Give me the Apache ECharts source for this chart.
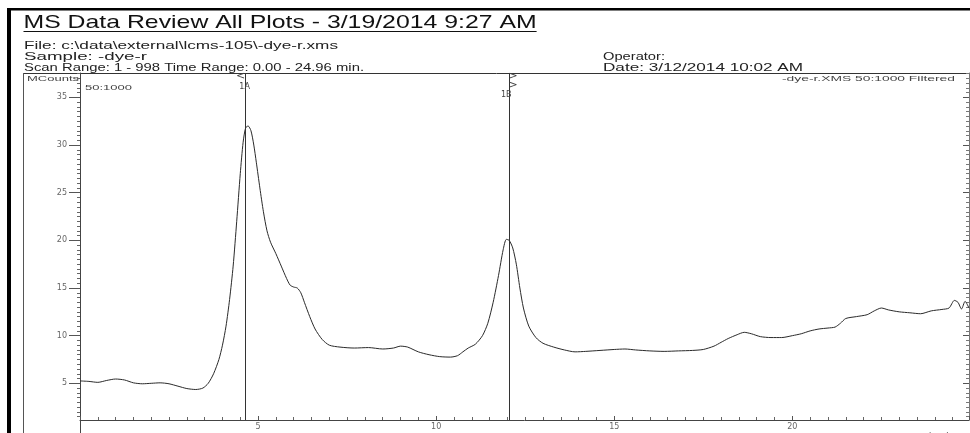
<!DOCTYPE html>
<html>
<head>
<meta charset="utf-8">
<script src="https://cdn.jsdelivr.net/npm/echarts@6/dist/echarts.min.js"></script>
<style>
html,body{margin:0;padding:0;background:#fff;}
#chart{width:970px;height:433px;}
</style>
</head>
<body>
<div id="chart"></div>
<script>
// ---- data ----
const TIME = [0.0,0.25,0.5,0.75,1.0,1.25,1.5,1.75,2.0,2.25,2.5,2.75,3.0,3.25,3.45,3.6,3.75,3.9,4.0,4.1,4.2,4.3,4.4,4.5,4.58,4.65,4.72,4.8,4.88,4.95,5.05,5.15,5.25,5.35,5.5,5.65,5.8,5.9,6.0,6.1,6.2,6.3,6.45,6.6,6.8,7.0,7.3,7.7,8.1,8.5,8.8,9.0,9.2,9.5,9.8,10.1,10.4,10.6,10.75,10.9,11.1,11.3,11.45,11.6,11.75,11.88,11.97,12.05,12.15,12.25,12.35,12.45,12.6,12.8,13.0,13.3,13.6,13.9,14.2,14.6,15.0,15.3,15.6,16.0,16.4,16.8,17.2,17.5,17.8,18.0,18.2,18.45,18.65,18.85,19.1,19.4,19.7,20.0,20.25,20.5,20.75,21.0,21.2,21.35,21.5,21.8,22.1,22.3,22.5,22.7,23.0,23.3,23.6,23.9,24.2,24.4,24.55,24.65,24.75,24.85,24.96];
const INTENSITY = [5.25,5.2,5.1,5.3,5.45,5.35,5.05,4.95,5.0,5.05,4.95,4.7,4.45,4.35,4.5,5.0,6.0,7.5,9.0,11.0,13.8,17.3,22.0,27.0,30.3,31.8,32.0,31.5,30.0,28.2,25.5,23.0,21.0,19.8,18.6,17.3,16.0,15.3,15.1,15.0,14.5,13.5,12.0,10.7,9.6,9.0,8.8,8.7,8.75,8.6,8.7,8.9,8.8,8.3,8.0,7.8,7.75,7.9,8.3,8.7,9.1,10.0,11.3,13.5,16.3,19.0,20.1,20.0,19.2,17.5,15.0,12.9,11.0,9.8,9.2,8.8,8.5,8.3,8.35,8.45,8.55,8.6,8.5,8.4,8.35,8.4,8.45,8.55,8.9,9.3,9.7,10.1,10.35,10.2,9.9,9.8,9.8,10.0,10.2,10.5,10.7,10.8,10.9,11.3,11.8,12.0,12.2,12.6,12.9,12.7,12.5,12.4,12.3,12.6,12.75,12.9,13.7,13.5,12.8,13.6,12.9];
const MARKER_NAMES = ['1A','1B'];
const MARKER_TIMES = [4.65,12.05];
const Y_MAJOR_TICKS = [5,10,15,20,25,30,35];
const X_MIN = 0, X_MAX = 24.96, X_INTERVAL = 5;
const Y_MIN = 1.15, Y_MAX = 37.56;

const TITLE = 'MS Data Review All Plots - 3/19/2014 9:27 AM';
const HEADER_LEFT = ['File: c:\\data\\external\\lcms-105\\-dye-r.xms','Sample: -dye-r','Scan Range: 1 - 998 Time Range: 0.00 - 24.96 min.'];
const HEADER_RIGHT = ['Operator:','Date: 3/12/2014 10:02 AM'];
const Y_UNIT = 'MCounts';
const TRACE_LEFT = '50:1000';
const TRACE_RIGHT = '-dye-r.XMS 50:1000 Filtered';
const X_UNIT = 'minutes';

// ---- helpers ----
const mctx = document.createElement('canvas').getContext('2d');
function stretched(text, x, y, size, width, family, color, extra) {
  mctx.font = size + 'px ' + family;
  const w = mctx.measureText(text).width || 1;
  return Object.assign({
    type: 'text', x: x, y: y, scaleX: width / w, silent: true,
    style: { text: text, fontSize: size, fontFamily: family, fill: color, align: 'left', verticalAlign: 'middle' }
  }, extra || {});
}
const minorTicks = [];
for (let v = Math.ceil(Y_MIN * 2) / 2; v <= Y_MAX; v += 0.5) {
  if (Math.abs(v / 5 - Math.round(v / 5)) > 1e-6) minorTicks.push(v);
}

const chart = echarts.init(document.getElementById('chart'), null, { renderer: 'canvas' });
const SANS = '"Liberation Sans", Arial, sans-serif';
const TICK_FONT = { fontFamily: '"DejaVu Sans", sans-serif', fontSize: 8, color: '#666' };

const markPoints = [];
MARKER_NAMES.forEach((n, i) => {
  const t = MARKER_TIMES[i];
  if (i === 0) {
    markPoints.push({ coord: [t, Y_MAX], label: { formatter: '<', offset: [-5, 3.5], fontSize: 11, color: '#444' } });
    markPoints.push({ coord: [t, Y_MAX], label: { formatter: n, offset: [-1, 13.5], fontSize: 8, color: '#444' } });
  } else {
    markPoints.push({ coord: [t, Y_MAX], label: { formatter: '>', offset: [4, 3.5], fontSize: 11, color: '#444' } });
    markPoints.push({ coord: [t, Y_MAX], label: { formatter: '>', offset: [4, 12.5], fontSize: 11, color: '#444' } });
    markPoints.push({ coord: [t, Y_MAX], label: { formatter: n, offset: [-3, 21.5], fontSize: 8, color: '#444' } });
  }
});

const option = {
  animation: false,
  backgroundColor: '#fff',
  grid: { left: 80, right: 1, top: 73, bottom: 13, containLabel: false },
  xAxis: {
    type: 'value', min: X_MIN, max: X_MAX, interval: X_INTERVAL,
    axisLine: { show: true, lineStyle: { color: '#444', width: 1 } },
    axisTick: { show: true, inside: true, length: 4, lineStyle: { color: '#555' } },
    minorTick: { show: true, splitNumber: 10, length: 3, lineStyle: { color: '#666' } },
    axisLabel: Object.assign({ show: true, showMinLabel: false, showMaxLabel: false, margin: 3 }, TICK_FONT),
    splitLine: { show: false }
  },
  yAxis: [
    {
      type: 'value', min: Y_MIN, max: Y_MAX, position: 'left',
      axisLine: { show: true, lineStyle: { color: '#444' } },
      axisTick: { show: true, customValues: Y_MAJOR_TICKS, length: 11, lineStyle: { color: '#555' } },
      axisLabel: Object.assign({ show: true, customValues: Y_MAJOR_TICKS, margin: 13 }, TICK_FONT),
      splitLine: { show: false }
    },
    {
      type: 'value', min: Y_MIN, max: Y_MAX, position: 'left',
      axisLine: { show: false },
      axisTick: { show: true, customValues: minorTicks, length: 3, lineStyle: { color: '#666' } },
      axisLabel: { show: false, customValues: minorTicks },
      splitLine: { show: false }
    },
    {
      type: 'value', min: Y_MIN, max: Y_MAX, position: 'right',
      axisLine: { show: true, lineStyle: { color: '#777' } },
      axisTick: { show: true, inside: true, customValues: Y_MAJOR_TICKS, length: 6, lineStyle: { color: '#555' } },
      axisLabel: { show: false, customValues: Y_MAJOR_TICKS },
      splitLine: { show: false }
    },
    {
      type: 'value', min: Y_MIN, max: Y_MAX, position: 'right',
      axisLine: { show: false },
      axisTick: { show: true, inside: true, customValues: minorTicks, length: 3, lineStyle: { color: '#777' } },
      axisLabel: { show: false, customValues: minorTicks },
      splitLine: { show: false }
    }
  ],
  series: [{
    type: 'line',
    yAxisIndex: 0,
    data: TIME.map((t, i) => [t, INTENSITY[i]]),
    showSymbol: false,
    smooth: 0.25,
    lineStyle: { color: '#2a2a2a', width: 1 },
    markLine: {
      silent: true, symbol: 'none',
      label: { show: false },
      lineStyle: { color: '#333', width: 1, type: 'solid' },
      data: MARKER_TIMES.map(t => ({ xAxis: t }))
    },
    markPoint: {
      silent: true, symbol: 'circle', symbolSize: 0,
      itemStyle: { color: 'transparent' },
      label: { show: true, position: 'inside', fontFamily: '"DejaVu Sans", sans-serif' },
      data: markPoints
    }
  }],
  graphic: [
    // outer black frame
    { type: 'rect', silent: true, shape: { x: 7, y: 8, width: 4, height: 425 }, style: { fill: '#000' } },
    { type: 'rect', silent: true, shape: { x: 7, y: 8, width: 963, height: 2.5 }, style: { fill: '#000' } },
    // inner box
    { type: 'line', silent: true, shape: { x1: 23, y1: 73.5, x2: 970, y2: 73.5 }, style: { stroke: '#333', lineWidth: 1 } },
    { type: 'line', silent: true, shape: { x1: 23.5, y1: 73, x2: 23.5, y2: 433 }, style: { stroke: '#555', lineWidth: 1 } },
    { type: 'line', silent: true, shape: { x1: 80.5, y1: 420, x2: 80.5, y2: 433 }, style: { stroke: '#444', lineWidth: 1 } },
    // title + underline
    (function () {
      mctx.font = '19px ' + SANS;
      const pre = mctx.measureText('MS Data Review All Plots - 3/19/2014 9:27').width;
      const full = mctx.measureText(TITLE).width;
      const s = 469 / pre;
      return {
        type: 'group', silent: true,
        children: [
          { type: 'text', x: 23.5, y: 22.5, scaleX: s, style: { text: TITLE, fontSize: 19, fontFamily: SANS, fill: '#111', align: 'left', verticalAlign: 'middle' } },
          { type: 'line', shape: { x1: 23.5, y1: 31.5, x2: 23.5 + full * s, y2: 31.5 }, style: { stroke: '#111', lineWidth: 1 } }
        ]
      };
    })(),
    stretched(HEADER_LEFT[0], 24, 46, 11, 314, SANS, '#222'),
    stretched(HEADER_LEFT[1], 24, 57, 11, 123, SANS, '#222'),
    stretched(HEADER_LEFT[2], 24, 67.5, 11, 340, SANS, '#222'),
    stretched(HEADER_RIGHT[0], 603, 57, 11, 62, SANS, '#222'),
    stretched(HEADER_RIGHT[1], 603, 67.5, 11, 200, SANS, '#222'),
    stretched(Y_UNIT, 27, 78.5, 8, 52, SANS, '#444'),
    stretched(TRACE_LEFT, 85, 88, 8, 47, SANS, '#444'),
    stretched(TRACE_RIGHT, 782, 78.5, 8, 173, SANS, '#444'),
    stretched(X_UNIT, 918, 434.5, 8, 45, SANS, '#666')
  ]
};
chart.setOption(option);
</script>
</body>
</html>
